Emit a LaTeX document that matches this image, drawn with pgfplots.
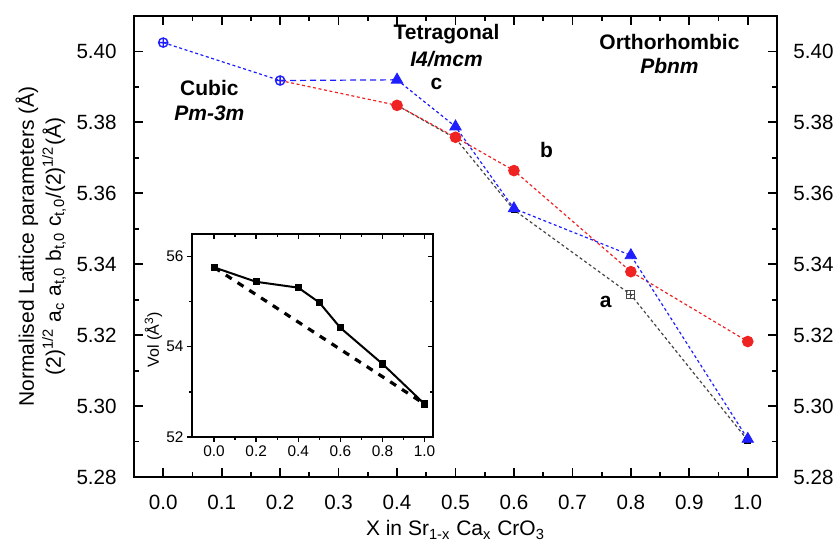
\documentclass[border=0pt]{standalone}
\usepackage{fontspec}
\setmainfont{Liberation Sans}
\usepackage{pgfplots}
\pgfplotsset{compat=1.18}

\definecolor{SeriesBlue}{RGB}{30,30,255}
\definecolor{SeriesRed}{RGB}{240,35,35}
\definecolor{SeriesGray}{RGB}{70,70,70}

\pgfplotsset{
  mainframe/.style={
    scale only axis, width=321.5pt, height=230.5pt,
    xmin=-0.05, xmax=1.05, ymin=5.28, ymax=5.41,
    xtick={0,0.1,0.2,0.3,0.4,0.5,0.6,0.7,0.8,0.9,1.0},
    minor xtick={0.05,0.15,0.25,0.35,0.45,0.55,0.65,0.75,0.85,0.95},
    ytick={5.28,5.30,5.32,5.34,5.36,5.38,5.40},
    minor ytick={5.29,5.31,5.33,5.35,5.37,5.39},
    tick align=inside, major tick length=4.5pt, minor tick length=2.5pt,
    every tick/.append style={black, line width=0.9pt},
    axis line style={line width=1.3pt},
    /pgf/number format/assume math mode=true,
    xticklabel style={/pgf/number format/fixed, /pgf/number format/fixed zerofill, /pgf/number format/precision=1},
    yticklabel style={/pgf/number format/fixed, /pgf/number format/fixed zerofill, /pgf/number format/precision=2},
    every tick label/.append style={font=\fontsize{10.3}{12}\selectfont, inner sep=0pt},
    clip=false,
  },
  insetframe/.style={
    at={(29pt,20pt)}, anchor=south west,
    scale only axis, width=120.5pt, height=101.5pt,
    xmin=-0.105, xmax=1.04, ymin=52, ymax=56.5,
    major tick length=2.6pt, minor tick length=1.6pt,
    every tick/.append style={black, line width=0.7pt},
    axis line style={line width=0.9pt},
    xtick={0,0.2,0.4,0.6,0.8,1.0}, minor xtick={0.1,0.3,0.5,0.7,0.9},
    ytick={52,54,56}, minor ytick={53,55},
    /pgf/number format/assume math mode=true,
    xticklabel style={/pgf/number format/fixed, /pgf/number format/fixed zerofill, /pgf/number format/precision=1},
    every tick label/.append style={font=\fontsize{7.7}{9}\selectfont, inner sep=1.5pt},
    clip=false,
  },
  dotline/.style={line width=0.6pt, dash pattern=on 1.5pt off 1.3pt},
}

\begin{document}
\begin{tikzpicture}
\path[use as bounding box] (-67pt,-33.5pt) rectangle (350.5pt,238.5pt);

% right-hand tick labels
\begin{axis}[mainframe, hide x axis, yticklabel pos=right,
  major tick length=0pt, minor tick length=0pt, axis line style={draw=none},
  every y tick label/.append style={xshift=8pt}]
\end{axis}

\begin{axis}[mainframe, yticklabel pos=left,
  every y tick label/.append style={xshift=-8.5pt},
  every x tick label/.append style={yshift=-9pt}]
  % series a
  \addplot[SeriesGray, dotline, mark=square*, mark size=1.4pt,
    mark options={solid, fill=black, draw=black}, mark indices={1,2,3,5}]
    coordinates {(0.4,5.3848) (0.5,5.3755) (0.6,5.3553) (0.8,5.3314) (1.0,5.2903)};
  \addplot[only marks, mark=square, mark size=2pt, mark options={SeriesGray, fill=white, line width=0.5pt}]
    coordinates {(0.8,5.3314)};
  \addplot[only marks, mark=+, mark size=2pt, mark options={SeriesGray, line width=0.5pt}]
    coordinates {(0.8,5.3314)};

  % series b
  \addplot[SeriesRed, dotline, mark=*, mark size=2.6pt, mark options={solid},
    mark indices={2,3,4,5,6}]
    coordinates {(0.2,5.3918) (0.4,5.3848) (0.5,5.3758) (0.6,5.3664) (0.8,5.3379) (1.0,5.3182)};

  % series c
  \addplot[SeriesBlue, dotline] coordinates {(0,5.4025) (0.2,5.3918)};
  \addplot[SeriesBlue, line width=0.6pt, dash pattern=on 3pt off 2pt]
    coordinates {(0.2,5.3918) (0.4,5.392)};
  \addplot[SeriesBlue, dotline]
    coordinates {(0.4,5.392) (0.5,5.3788) (0.6,5.3557) (0.8,5.3425) (1.0,5.2907)};
  \addplot[only marks, mark=oplus, mark size=2.3pt, mark options={SeriesBlue, fill=white, line width=0.7pt}]
    coordinates {(0,5.4025) (0.2,5.3918)};
  \addplot[only marks, mark=triangle*, mark size=3.3pt, mark options={SeriesBlue}]
    coordinates {(0.4,5.392) (0.5,5.3788) (0.6,5.3557) (0.8,5.3425) (1.0,5.2907)};

  % annotations
  \node[font=\fontsize{10.5}{12}\selectfont\bfseries] at (axis cs:0.079,5.3898) {Cubic};
  \node[font=\fontsize{10.5}{12}\selectfont\bfseries\itshape] at (axis cs:0.079,5.3825) {Pm-3m};
  \node[font=\fontsize{10.5}{12}\selectfont\bfseries] at (axis cs:0.4846,5.4048) {Tetragonal};
  \node[font=\fontsize{10.5}{12}\selectfont\bfseries\itshape] at (axis cs:0.4846,5.3978) {I4/mcm};
  \node[font=\fontsize{10.5}{12}\selectfont\bfseries] at (axis cs:0.866,5.4028) {Orthorhombic};
  \node[font=\fontsize{10.5}{12}\selectfont\bfseries\itshape] at (axis cs:0.866,5.3958) {Pbnm};
  \node[font=\fontsize{10.5}{12}\selectfont\bfseries] at (axis cs:0.4675,5.3907) {c};
  \node[font=\fontsize{10.5}{12}\selectfont\bfseries] at (axis cs:0.6558,5.3723) {b};
  \node[font=\fontsize{10.5}{12}\selectfont\bfseries] at (axis cs:0.757,5.3294) {a};

  % axis labels
  \node[rotate=90, align=center, font=\fontsize{10.5}{13.5}\selectfont]
    at (axis description cs:-0.145,0.5)
    {Normalised Lattice parameters (Å)\\
     (2)\textsuperscript{1/2} a\textsubscript{c} a\textsubscript{t,0} b\textsubscript{t,0} c\textsubscript{t,0}/(2)\textsuperscript{1/2}(Å)};
  \node[font=\fontsize{10.5}{12}\selectfont] at (axis description cs:0.5,-0.115)
    {X in Sr\textsubscript{1-x} Ca\textsubscript{x} CrO\textsubscript{3}};
\end{axis}

% inset: mirrored inward ticks on top and right
\begin{axis}[insetframe, tick pos=right, tick align=inside,
  xticklabels={}, yticklabels={}, axis background/.style={fill=white}]
\end{axis}

\begin{axis}[insetframe, tick pos=left, tick align=outside]
  \addplot[black, line width=1pt, mark=square*, mark size=1.3pt]
    coordinates {(0,55.76) (0.2,55.44) (0.4,55.31) (0.5,54.98) (0.6,54.42) (0.8,53.62) (1.0,52.73)};
  \addplot[black, line width=1.6pt, dash pattern=on 3.5pt off 3.5pt]
    coordinates {(0,55.76) (1.0,52.73)};
  \node[rotate=90, font=\fontsize{8}{9}\selectfont] at (axis description cs:-0.16,0.48)
    {Vol (Å\textsuperscript{3})};
\end{axis}
\end{tikzpicture}
\end{document}
